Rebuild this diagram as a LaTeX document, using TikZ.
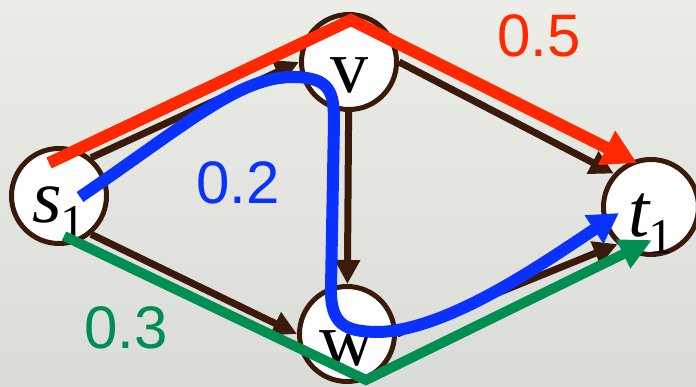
\documentclass[tikz,border=0pt]{standalone}
\usepackage{fontspec}
\setmainfont{Liberation Serif}
\newfontfamily\numfont{Liberation Sans}
\usetikzlibrary{arrows.meta}

\definecolor{edgebrown}{RGB}{58,26,8}
\definecolor{pathred}{RGB}{255,40,0}
\definecolor{pathblue}{RGB}{10,50,255}
\definecolor{pathgreen}{RGB}{0,142,82}
\definecolor{bgtop}{RGB}{237,237,231}
\definecolor{bgbot}{RGB}{218,220,216}

\newcommand{\subone}{\raisebox{-17pt}{\upshape\fontsize{50}{50}\selectfont 1}}

\begin{document}
\begin{tikzpicture}[x=1pt, y=1pt,
  vertex/.style={circle, draw=edgebrown, line width=5pt, fill=white,
    minimum size=95pt, inner sep=0pt, text height=0pt, text depth=0pt,
    font=\fontsize{76}{76}\selectfont},
  flow/.style={draw=edgebrown, line width=7pt, -{Triangle[length=24pt,width=24pt]}},
  route/.style={line width=12pt},
  num/.style={font=\numfont\fontsize{60}{60}\selectfont, inner sep=0pt}]

% Background
\useasboundingbox (0,0) rectangle (696,387);
\fill[bottom color=bgbot, top color=bgtop] (0,0) rectangle (696,387);

% Vertices
\node[vertex] (s1) at (59,191) {\raisebox{-27pt}{\itshape s\kern-1pt\subone}};
\node[vertex] (v) at (349,325) {\raisebox{-31pt}{v}};
\node[vertex] (w) at (347,53) {\raisebox{-32pt}{w}};
\node[vertex] (t1) at (651,180) {\raisebox{-30pt}{\itshape t\kern-2pt\subone}};

% Edges
\draw[flow] (s1.50) -- (v.west);
\draw[flow] (s1.-50) -- (w.west);
\draw[flow] (v) -- (w);
\draw[flow] (v.east) -- (t1.138);
\draw[flow] (w.east) -- (t1.-132);

% Path ends
\coordinate (red0) at (49,224);
\coordinate (redtop) at (351,367);
\coordinate (red1) at (637,224);
\coordinate (blue0) at (80,190);
\coordinate (blue1) at (619,174);
\coordinate (green0) at (64,151);
\coordinate (greenbot) at (366,7);
\coordinate (green1) at (652,147);

% Flow paths
\draw[route, pathred, -{Triangle[length=34pt,width=36pt]}] (red0) -- (redtop) -- (red1);
\draw[route, pathblue, -{Triangle[length=30pt,width=32pt]}] (blue0)
  .. controls (190,265) and (240,311) .. (295,310)
  .. controls (330,309) and (334,295) .. (334,265) -- (331,100)
  .. controls (330,62) and (345,55) .. (380,55)
  .. controls (450,58) and (545,125) .. (blue1);
\draw[route, line width=10pt, pathgreen, -{Triangle[length=32pt,width=30pt]}] (green0) -- (greenbot) -- (green1);

% Labels
\node[num, text=pathred] (lred) at (539,351) {0.5};
\node[num, text=pathblue] (lblue) at (238,204) {0.2};
\node[num, text=pathgreen] (lgreen) at (126,59) {0.3};

\end{tikzpicture}
\end{document}
